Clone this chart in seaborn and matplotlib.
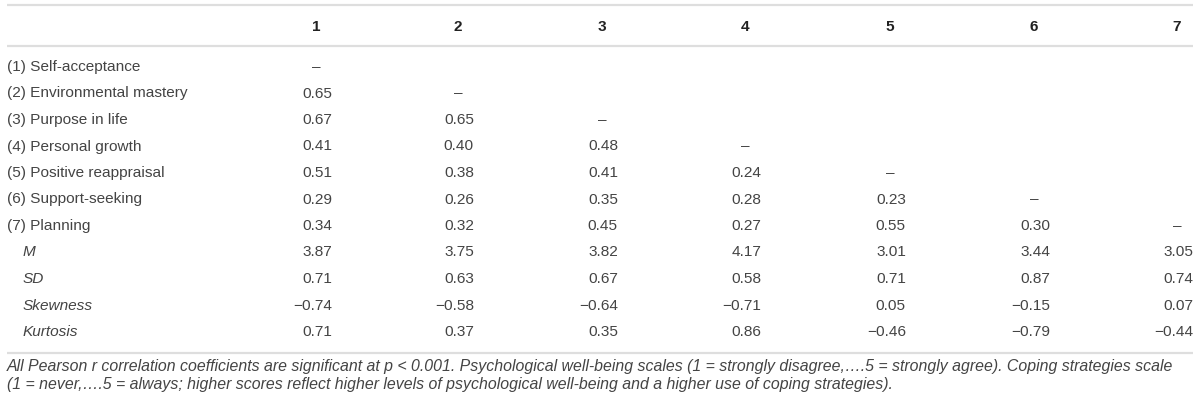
import matplotlib
matplotlib.use('Agg')
import matplotlib.pyplot as plt
import seaborn as sns

# Table content
col_headers = ['1', '2', '3', '4', '5', '6', '7']
row_labels = ['(1) Self-acceptance', '(2) Environmental mastery', '(3) Purpose in life',
              '(4) Personal growth', '(5) Positive reappraisal', '(6) Support-seeking',
              '(7) Planning']
# lower triangle of correlations, row by row
corr_rows = [
    [],
    ['0.65'],
    ['0.67', '0.65'],
    ['0.41', '0.40', '0.48'],
    ['0.51', '0.38', '0.41', '0.24'],
    ['0.29', '0.26', '0.35', '0.28', '0.23'],
    ['0.34', '0.32', '0.45', '0.27', '0.55', '0.30'],
]
stat_labels = ['M', 'SD', 'Skewness', 'Kurtosis']
mean_vals = ['3.87', '3.75', '3.82', '4.17', '3.01', '3.44', '3.05']
sd_vals = ['0.71', '0.63', '0.67', '0.58', '0.71', '0.87', '0.74']
skew_vals = ['\u22120.74', '\u22120.58', '\u22120.64', '\u22120.71', '0.05', '\u22120.15', '0.07']
kurt_vals = ['0.71', '0.37', '0.35', '0.86', '\u22120.46', '\u22120.79', '\u22120.44']
footnote = ("All Pearson r correlation coefficients are significant at p < 0.001. Psychological well-being scales "
            "(1 = strongly disagree,\u2026.5 = strongly agree). Coping strategies scale\n"
            "(1 = never,\u2026.5 = always; higher scores reflect higher levels of psychological well-being "
            "and a higher use of coping strategies).")

sns.set_theme(style='white')
plt.rcParams['font.family'] = ['Liberation Sans', 'DejaVu Sans']

W, H = 1200, 405
fig = plt.figure(figsize=(W / 100, H / 100), dpi=100)
ax = fig.add_axes([0, 0, 1, 1])
ax.set_xlim(0, W)
ax.set_ylim(H, 0)
ax.axis('off')

txt = '#444444'
rule = '#dedede'
fs = 11.1
col_x = [316, 458, 602, 745, 890, 1034, 1177]
num_off = 16
left = 7
row_y0 = 67
row_h = 26.5

for y in (5, 46, 353):
    ax.plot([left, 1193], [y, y], color=rule, lw=1.6, solid_capstyle='butt')

for x, h in zip(col_x, col_headers):
    ax.text(x, 27, h, ha='center', va='center', fontsize=fs, fontweight='bold', color='#222222')

for i, (lab, vals) in enumerate(zip(row_labels, corr_rows)):
    y = row_y0 + i * row_h
    ax.text(left, y, lab, ha='left', va='center', fontsize=fs, color=txt)
    for j, v in enumerate(vals):
        ax.text(col_x[j] + num_off, y, v, ha='right', va='center', fontsize=fs, color=txt)
    ax.text(col_x[i], y, '\u2013', ha='center', va='center', fontsize=fs, color=txt)

for k, (lab, vals) in enumerate(zip(stat_labels, [mean_vals, sd_vals, skew_vals, kurt_vals])):
    y = row_y0 + (len(row_labels) + k) * row_h
    ax.text(left + 16, y, lab, ha='left', va='center', fontsize=fs, style='italic', color=txt)
    for j, v in enumerate(vals):
        ax.text(col_x[j] + num_off, y, v, ha='right', va='center', fontsize=fs, color=txt)

ax.text(left, 358.5, footnote, ha='left', va='top', fontsize=11.4, style='italic',
        color=txt, linespacing=1.3)

fig.savefig('out.png', dpi=100)
